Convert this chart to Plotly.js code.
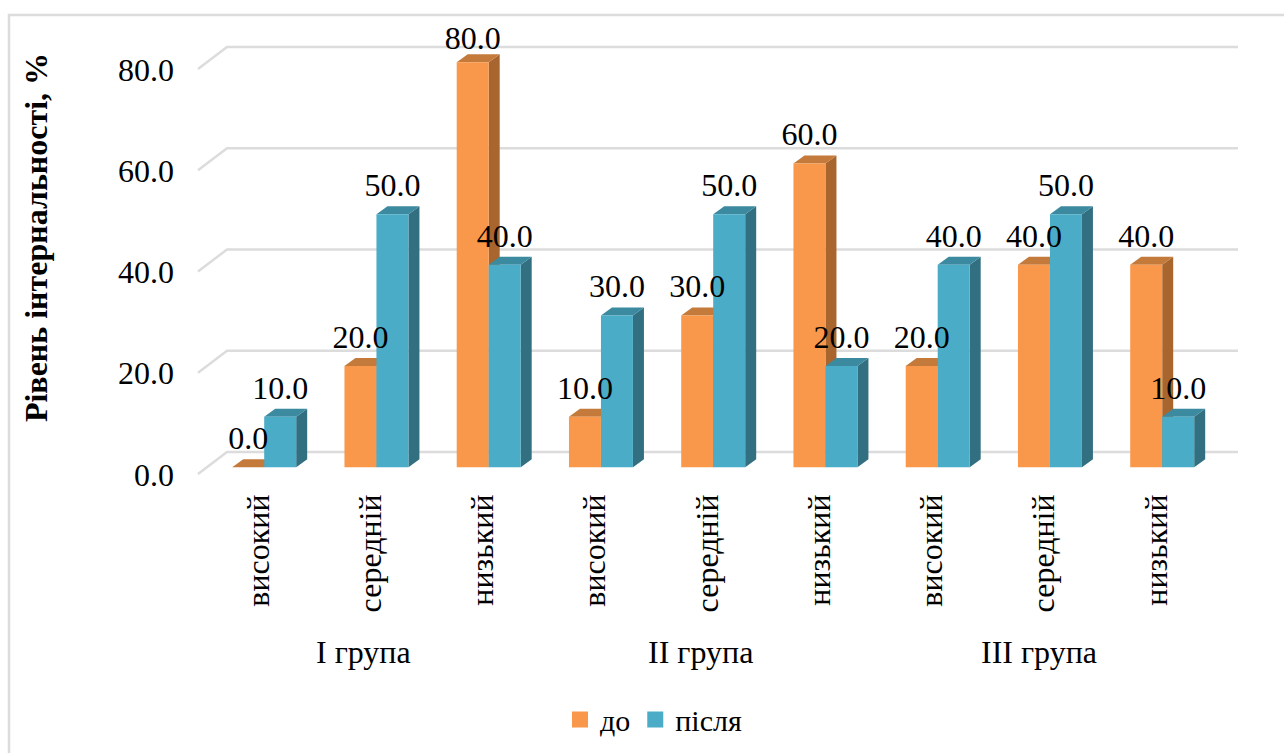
<!DOCTYPE html>
<html><head><meta charset="utf-8">
<script src="https://cdn.plot.ly/plotly-3.0.1.min.js"></script>
<style>html,body{margin:0;padding:0;background:#fff}</style></head>
<body><div id="chart" style="width:1284px;height:753px"></div>
<script>
const levels = ["високий","середній","низький","високий","середній","низький","високий","середній","низький"];
const before = [0,20,80,10,30,60,20,40,40];
const after = [10,50,40,30,50,20,40,50,10];
const yTicks = [0,20,40,60,80];
const groups = ["I група","II група","III група"];
const seriesNames = ["до","після"];

const W=1284,H=753,FONT='"Liberation Serif","Times New Roman",serif';
const pxX0=264.2,pxPerCat=112.25,pxY0=467.3,pxPerUnit=5.0625;
const L=190,R=1250,T=0,B=475;
const ix=p=>(p-pxX0)/pxPerCat, iy=p=>(pxY0-p)/pxPerUnit;
const dx=11/pxPerCat, dy=8/pxPerUnit, halfBar=0.1425;
const C={o:"#F9984A",oSide:"#A9652E",oTop:"#C47A3A",b:"#4AACC6",bSide:"#326F80",bTop:"#3B8AA0",grid:"#DCDCDC"};
const xs=levels.map((_,i)=>i);
const shapes=[];
const poly=(pts,fill)=>shapes.push({type:"path",layer:"below",xref:"x",yref:"y",
  path:"M"+pts.map(p=>p[0]+","+p[1]).join("L")+"Z",fillcolor:fill,line:{width:0}});
// frame: runs off the right and bottom of the picture
shapes.push({type:"rect",layer:"below",xref:"paper",yref:"paper",
  x0:(9-L)/(R-L),x1:(1300-L)/(R-L),y0:(B-770)/(B-T),y1:(B-15)/(B-T),line:{color:C.grid,width:2.5},fillcolor:"#fff"});
yTicks.forEach(v=>{
  const yFront=v+iy(474),yBack=v+iy(452);
  shapes.push({type:"path",layer:"below",xref:"x",yref:"y",
   path:`M${ix(198)},${yFront}L${ix(227)},${yBack}L${ix(1238)},${yBack}`,line:{color:C.grid,width:2.5},fillcolor:"rgba(0,0,0,0)"});
});
function depth(vals,x0,x1,side,top){
  vals.forEach((v,i)=>{
    const l=i+x0,r=i+x1;
    poly([[r,0],[r+dx,dy],[r+dx,v+dy],[r,v]],side);
    poly([[l,v],[l+dx,v+dy],[r+dx,v+dy],[r,v]],top);
  });
}
depth(before,-2*halfBar,0,C.oSide,C.oTop);
depth(after,0,2*halfBar,C.bSide,C.bTop);

const lift=2.0, labelCeil=81.0;
const labelY=v=>Math.min(v+lift,labelCeil);
const labelFont={family:FONT,size:32,color:"#000"};
const traces=[
 {type:"bar",x:xs,y:before,name:seriesNames[0],marker:{color:C.o},showlegend:false,hoverinfo:"y"},
 {type:"bar",x:xs,y:after,name:seriesNames[1],marker:{color:C.b},showlegend:false,hoverinfo:"y"},
 {type:"scatter",mode:"text",x:xs.map(i=>i-halfBar),y:before.map(labelY),text:before.map(v=>v.toFixed(1)),textposition:"top center",textfont:labelFont,showlegend:false,hoverinfo:"skip",cliponaxis:false},
 {type:"scatter",mode:"text",x:xs.map(i=>i+halfBar),y:after.map(labelY),text:after.map(v=>v.toFixed(1)),textposition:"top center",textfont:labelFont,showlegend:false,hoverinfo:"skip",cliponaxis:false},
 {type:"scatter",mode:"markers",x:[null],y:[null],name:seriesNames[0],marker:{color:C.o,symbol:"square",size:16}},
 {type:"scatter",mode:"markers",x:[null],y:[null],name:seriesNames[1],marker:{color:C.b,symbol:"square",size:16}}
];
const layout={width:W,height:H,paper_bgcolor:"#fff",plot_bgcolor:"rgba(0,0,0,0)",
 margin:{l:L,r:W-R,t:T,b:H-B,pad:0},barmode:"group",bargap:0.43,bargroupgap:0,
 font:{family:FONT,color:"#000"},shapes,
 xaxis:{range:[ix(L),ix(R)],tickmode:"array",tickvals:xs,ticktext:levels,tickangle:-90,showgrid:false,zeroline:false,showline:false,ticks:"",
   tickfont:{family:FONT,size:32,color:"#000"},ticklabelstandoff:12,ticklabelshift:-6},
 yaxis:{range:[iy(B),iy(T)],tickmode:"array",tickvals:yTicks,ticktext:yTicks.map(v=>v.toFixed(1)),showgrid:false,zeroline:false,showline:false,ticks:"",
   tickfont:{family:FONT,size:32,color:"#000"},ticklabelshift:7,ticklabelstandoff:15,automargin:true,
   title:{text:"Рівень інтернальності, %",font:{family:FONT,size:32,color:"#000",weight:"bold"},standoff:60}},
 legend:{orientation:"h",x:560/W,xanchor:"left",xref:"container",y:0.01,yanchor:"bottom",yref:"container",font:{family:FONT,size:30,color:"#000"},bgcolor:"rgba(0,0,0,0)"},
 annotations:groups.map((g,k)=>({xref:"x",yref:"paper",x:[ix(363.5),ix(700),ix(1038.5)][k],y:(B-652)/(B-T),text:g,showarrow:false,font:{family:FONT,size:32,color:"#000"},xanchor:"center",yanchor:"middle"}))
};
Plotly.newPlot("chart",traces,layout,{displayModeBar:false,responsive:false});
</script></body></html>
